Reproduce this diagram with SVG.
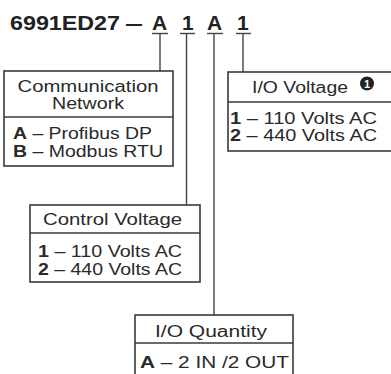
<svg xmlns="http://www.w3.org/2000/svg" width="391" height="374" viewBox="0 0 391 374">
<style>
.box{fill:#fff;stroke:#3a3a3a;stroke-width:1.6}
.div{stroke:#3a3a3a;stroke-width:1.6}
.con{stroke:#444;stroke-width:1.4;fill:none}
text{font-family:"Liberation Sans",Arial,sans-serif;fill:#2a2a2a}
.t{font-size:16px}
.h{font-size:16px}
.b{font-weight:bold}
.title{font-size:21px;font-weight:bold;fill:#222}
</style>
<rect width="391" height="374" fill="#fff"/>
<g id="title">
<text class="title" x="10" y="30" textLength="110" lengthAdjust="spacingAndGlyphs">6991ED27</text>
<text class="title" x="125" y="30" textLength="18" lengthAdjust="spacingAndGlyphs">–</text>
<text class="title" x="152" y="30">A</text>
<text class="title" x="182" y="30">1</text>
<text class="title" x="207" y="30">A</text>
<text class="title" x="237" y="30">1</text>
</g>
<g id="connectors">
<line class="con" x1="152" y1="33.5" x2="168" y2="33.5"/>
<line class="con" x1="180" y1="33.5" x2="195" y2="33.5"/>
<line class="con" x1="207" y1="33.5" x2="223" y2="33.5"/>
<line class="con" x1="236" y1="33.5" x2="251" y2="33.5"/>
<line class="con" x1="160" y1="33.5" x2="160" y2="71"/>
<line class="con" x1="186.5" y1="33.5" x2="186.5" y2="205"/>
<line class="con" x1="214" y1="33.5" x2="214" y2="315"/>
<line class="con" x1="243" y1="33.5" x2="243" y2="72"/>
</g>
<g id="comm">
<rect class="box" x="4" y="71" width="169" height="95"/>
<line class="div" x1="4" y1="117" x2="173" y2="117"/>
<text class="h" x="88" y="92" text-anchor="middle" textLength="141" lengthAdjust="spacingAndGlyphs">Communication</text>
<text class="h" x="88" y="109" text-anchor="middle" textLength="72" lengthAdjust="spacingAndGlyphs">Network</text>
<text class="t" x="13" y="139" textLength="139" lengthAdjust="spacingAndGlyphs"><tspan class="b">A</tspan> – Profibus DP</text>
<text class="t" x="13" y="157" textLength="150" lengthAdjust="spacingAndGlyphs"><tspan class="b">B</tspan> – Modbus RTU</text>
</g>
<g id="control">
<rect class="box" x="30" y="205" width="170" height="77"/>
<line class="div" x1="30" y1="233" x2="200" y2="233"/>
<text class="h" x="43" y="225" textLength="139" lengthAdjust="spacingAndGlyphs">Control Voltage</text>
<text class="t" x="38" y="257" textLength="144" lengthAdjust="spacingAndGlyphs"><tspan class="b">1</tspan> – 110 Volts AC</text>
<text class="t" x="38" y="275" textLength="144" lengthAdjust="spacingAndGlyphs"><tspan class="b">2</tspan> – 440 Volts AC</text>
</g>
<g id="iovoltage">
<rect class="box" x="228" y="72" width="170" height="79"/>
<line class="div" x1="228" y1="102" x2="391" y2="102"/>
<text class="h" x="252" y="93" textLength="96" lengthAdjust="spacingAndGlyphs">I/O Voltage</text>
<circle cx="367" cy="83.5" r="7" fill="#222"/>
<text x="367" y="88" text-anchor="middle" style="font-size:11px;font-weight:bold;fill:#fff">1</text>
<text class="t" x="230" y="124" textLength="147" lengthAdjust="spacingAndGlyphs"><tspan class="b">1</tspan> – 110 Volts AC</text>
<text class="t" x="230" y="141" textLength="147" lengthAdjust="spacingAndGlyphs"><tspan class="b">2</tspan> – 440 Volts AC</text>
</g>
<g id="ioquantity">
<rect class="box" x="135" y="315" width="158" height="70"/>
<line class="div" x1="135" y1="343" x2="293" y2="343"/>
<text class="h" x="155" y="337" textLength="112" lengthAdjust="spacingAndGlyphs">I/O Quantity</text>
<text class="t" x="140" y="368" textLength="149" lengthAdjust="spacingAndGlyphs"><tspan class="b">A</tspan> – 2 IN /2 OUT</text>
</g>
</svg>
